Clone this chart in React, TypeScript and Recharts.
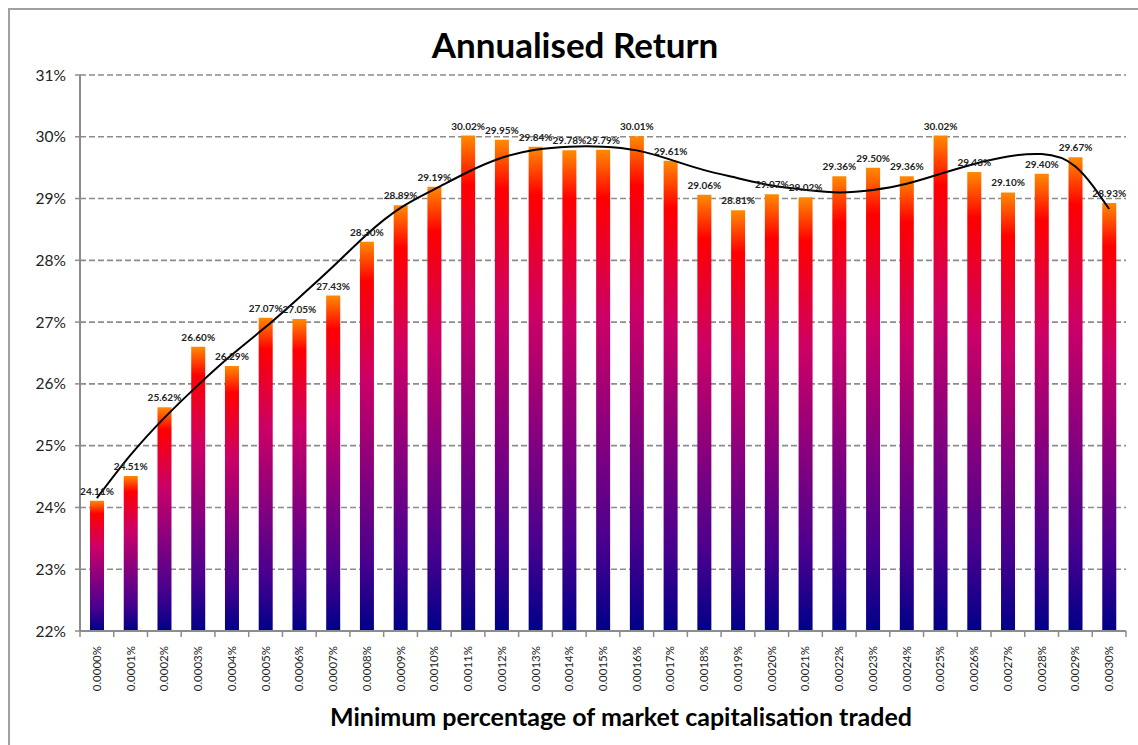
import React from "react";
import {
  ComposedChart,
  Bar,
  Line,
  XAxis,
  YAxis,
  CartesianGrid,
  LabelList,
} from "recharts";

// ---- data ----
const categories = [
  "0.0000%", "0.0001%", "0.0002%", "0.0003%", "0.0004%", "0.0005%", "0.0006%", "0.0007%",
  "0.0008%", "0.0009%", "0.0010%", "0.0011%", "0.0012%", "0.0013%", "0.0014%", "0.0015%",
  "0.0016%", "0.0017%", "0.0018%", "0.0019%", "0.0020%", "0.0021%", "0.0022%", "0.0023%",
  "0.0024%", "0.0025%", "0.0026%", "0.0027%", "0.0028%", "0.0029%", "0.0030%",
];

const annualisedReturn = [
  24.11, 24.51, 25.62, 26.6, 26.29, 27.07, 27.05, 27.43, 28.3, 28.89, 29.19, 30.02, 29.95,
  29.84, 29.78, 29.79, 30.01, 29.61, 29.06, 28.81, 29.07, 29.02, 29.36, 29.5, 29.36, 30.02,
  29.43, 29.1, 29.4, 29.67, 28.93,
];

// trendline values at each category
const trendline = [
  24.15, 24.85, 25.45, 25.98, 26.47, 26.92, 27.4, 27.9, 28.42, 28.85, 29.15, 29.43, 29.66,
  29.79, 29.84, 29.84, 29.78, 29.63, 29.46, 29.33, 29.21, 29.14, 29.1, 29.14, 29.24, 29.4,
  29.56, 29.68, 29.72, 29.52, 28.83,
];

const yTicks = [22, 23, 24, 25, 26, 27, 28, 29, 30, 31];

const title = "Annualised Return";
const xTitle = "Minimum percentage of market capitalisation traded";

const data = categories.map((c, i) => ({
  cat: c,
  value: annualisedReturn[i],
  trend: trendline[i],
}));

// ---- layout ----
const W = 1138;
const H = 745;
const MARGIN = { top: 75, right: 12, left: 30, bottom: 34 };
const Y_W = 50;
const X_H = 80;
const PLOT_W = W - MARGIN.left - MARGIN.right - Y_W;
const BAND = PLOT_W / categories.length;
const FONT = "Lato, 'DejaVu Sans', sans-serif";

const XTick = (props: any) => {
  const { x, y, payload, index } = props;
  const left = x - BAND / 2;
  const right = x + BAND / 2;
  return (
    <g>
      <line x1={left} y1={y} x2={left} y2={y + 6} stroke="#8c8c8c" strokeWidth={1.5} />
      {index === categories.length - 1 && (
        <line x1={right} y1={y} x2={right} y2={y + 6} stroke="#8c8c8c" strokeWidth={1.5} />
      )}
      <text
        x={0}
        y={0}
        transform={`translate(${x + 4},${y + 15}) rotate(-90)`}
        textAnchor="end"
        fontSize={11.5}
        fill="#222"
        fontFamily={FONT}
      >
        {payload.value}
      </text>
    </g>
  );
};

export default function App() {
  return (
    <div
      style={{
        position: "absolute",
        left: 0,
        top: 0,
        width: W,
        height: H,
        overflow: "hidden",
        background: "#fff",
        fontFamily: FONT,
      }}
    >
      <div
        style={{
          position: "absolute",
          left: 8,
          top: 8,
          width: W + 20,
          height: H + 20,
          border: "2px solid #a0a0a0",
          boxSizing: "border-box",
        }}
      />
      <div
        style={{
          position: "absolute",
          left: 0,
          width: 1150,
          top: 23,
          textAlign: "center",
          fontSize: 35,
          fontWeight: 700,
          lineHeight: "42px",
          color: "#000",
        }}
      >
        {title}
      </div>
      <ComposedChart
        width={W}
        height={H}
        data={data}
        margin={MARGIN}
        barSize={14}
        style={{ position: "absolute", left: 0, top: 0, fontFamily: FONT }}
      >
        <defs>
          <linearGradient id="barGrad" x1="0" y1="0" x2="0" y2="1">
            <stop offset="0%" stopColor="#ff8a00" />
            <stop offset="10%" stopColor="#ff0000" />
            <stop offset="35%" stopColor="#cc0066" />
            <stop offset="60%" stopColor="#85007f" />
            <stop offset="82%" stopColor="#48008e" />
            <stop offset="100%" stopColor="#000088" />
          </linearGradient>
        </defs>
        <CartesianGrid
          vertical={false}
          stroke="#8c8c8c"
          strokeDasharray="6 3"
          strokeWidth={1.6}
        />
        <XAxis
          dataKey="cat"
          height={X_H}
          interval={0}
          tickLine={false}
          tickSize={0}
          tickMargin={0}
          axisLine={{ stroke: "#8c8c8c", strokeWidth: 2 }}
          tick={<XTick />}
        />
        <YAxis
          width={Y_W}
          domain={[22, 31]}
          ticks={yTicks}
          interval={0}
          allowDataOverflow
          tickFormatter={(v: number) => `${v}%`}
          tickSize={5}
          tickMargin={9}
          tickLine={{ stroke: "#8c8c8c", strokeWidth: 1.5 }}
          axisLine={{ stroke: "#8c8c8c", strokeWidth: 2 }}
          tick={{ fontSize: 15.5, fill: "#222", fontFamily: FONT }}
        />
        <Bar dataKey="value" fill="url(#barGrad)" isAnimationActive={false}>
          <LabelList
            dataKey="value"
            position="top"
            offset={6}
            formatter={(v: any) => `${Number(v).toFixed(2)}%`}
            style={{ fontSize: 10, fontWeight: 700, fill: "#222", fontFamily: FONT }}
          />
        </Bar>
        <Line
          dataKey="trend"
          type="natural"
          stroke="#000"
          strokeWidth={2}
          dot={false}
          activeDot={false}
          isAnimationActive={false}
        />
      </ComposedChart>
      <div
        style={{
          position: "absolute",
          left: 0,
          width: 1242,
          top: 701,
          textAlign: "center",
          fontSize: 25,
          fontWeight: 700,
          lineHeight: "30px",
          color: "#000",
        }}
      >
        {xTitle}
      </div>
    </div>
  );
}
